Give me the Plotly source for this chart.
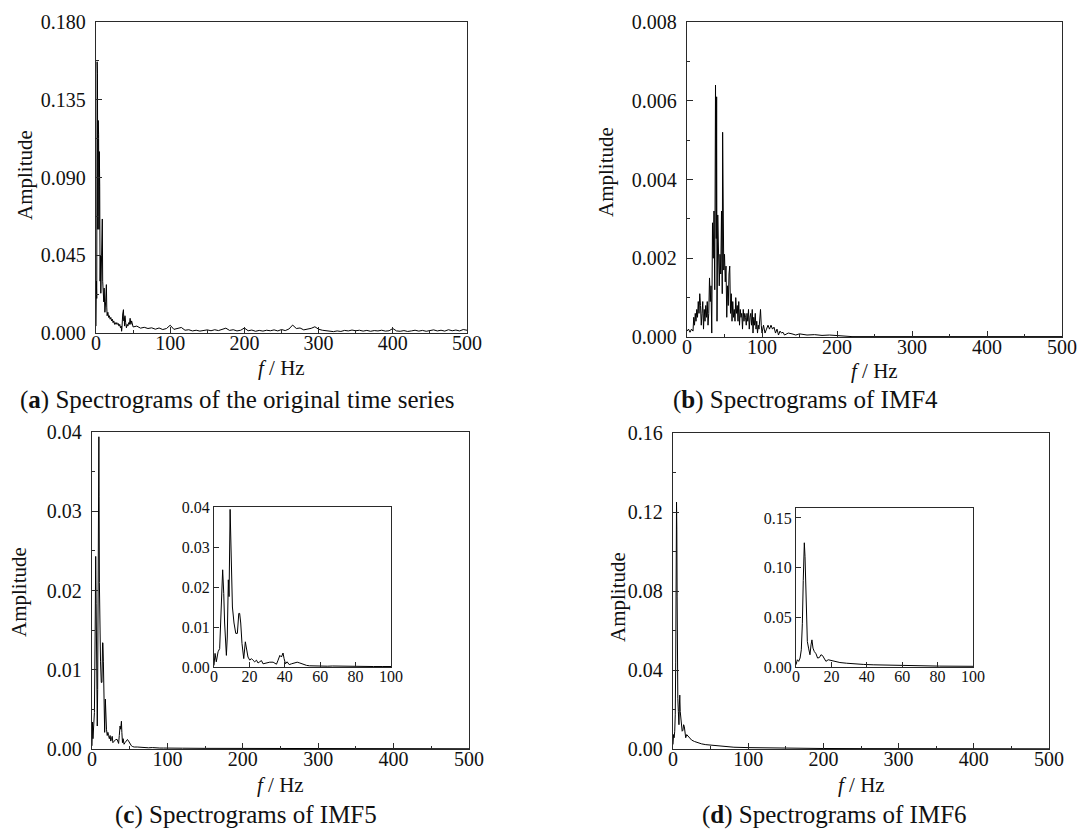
import plotly.graph_objects as go

# ---------------- data ----------------
# (a) original time series spectrum
freq_a_low = [0, 0.5, 1.0, 1.5, 2.0, 2.4, 3.0, 3.5, 4.0, 4.5, 5.0, 5.5, 6.0, 6.5, 7.0, 7.5,
              8.0, 8.5, 9.0, 9.5, 10, 10.5, 11, 11.5, 12, 13, 14, 14.5, 15, 16, 17, 18, 19,
              20, 21, 22, 23, 24, 25, 26, 27, 28, 29, 30, 31, 32, 33, 34, 34.5, 35, 36, 37,
              37.5, 38, 38.5, 39, 40, 41, 42, 43, 44, 45, 46, 47, 48, 49]
amp_a_low = [0.004, 0.030, 0.020, 0.157, 0.150, 0.060, 0.123, 0.115, 0.060, 0.105, 0.085, 0.030,
             0.045, 0.023, 0.035, 0.025, 0.050, 0.066, 0.030, 0.020, 0.027, 0.018, 0.026, 0.014,
             0.012, 0.018, 0.028, 0.015, 0.010, 0.012, 0.009, 0.010, 0.008, 0.009, 0.007, 0.008,
             0.006, 0.007, 0.005, 0.006, 0.005, 0.006, 0.005, 0.0055, 0.004, 0.005, 0.003, 0.004,
             0.001, 0.003, 0.011, 0.0135, 0.007, 0.009, 0.004, 0.010, 0.006, 0.003, 0.005, 0.004,
             0.006, 0.005, 0.0085, 0.005, 0.007, 0.004]
freq_a_tail = [50, 55, 60, 65, 70, 75, 80, 85, 90, 95, 100, 105, 110, 115, 120, 125, 130, 135,
               140, 145, 150, 155, 160, 165, 170, 175, 180, 185, 190, 195, 200, 205, 210, 215,
               220, 225, 230, 235, 240, 245, 250, 255, 260, 265, 270, 275, 280, 285, 290, 295,
               300, 305, 310, 315, 320, 325, 330, 335, 340, 345, 350, 355, 360, 365, 370, 375,
               380, 385, 390, 395, 400, 405, 410, 415, 420, 425, 430, 435, 440, 445, 450, 455,
               460, 465, 470, 475, 480, 485, 490, 495, 500]
amp_a_tail = [0.0035, 0.0040, 0.0028, 0.0033, 0.0026, 0.0030, 0.0022, 0.0029, 0.0020, 0.0026,
              0.0045, 0.0021, 0.0028, 0.0032, 0.0016, 0.0019, 0.0012, 0.0016, 0.0011, 0.0015,
              0.0018, 0.0013, 0.0019, 0.0014, 0.0022, 0.0028, 0.0015, 0.0019, 0.0012, 0.0016,
              0.0029, 0.0013, 0.0017, 0.0010, 0.0015, 0.0011, 0.0016, 0.0013, 0.0018, 0.0012,
              0.0020, 0.0014, 0.0023, 0.0046, 0.0026, 0.0029, 0.0018, 0.0021, 0.0027, 0.0036,
              0.0022, 0.0016, 0.0013, 0.0011, 0.0008, 0.0012, 0.0009, 0.0015, 0.0012, 0.0017,
              0.0013, 0.0016, 0.0011, 0.0015, 0.0010, 0.0014, 0.0012, 0.0016, 0.0011, 0.0013,
              0.0026, 0.0012, 0.0010, 0.0014, 0.0009, 0.0012, 0.0016, 0.0011, 0.0015, 0.0010,
              0.0014, 0.0018, 0.0012, 0.0016, 0.0011, 0.0019, 0.0013, 0.0017, 0.0012, 0.0020,
              0.0016]

# (b) IMF4 spectrum
freq_b = [0, 2, 4, 6, 8, 9, 10, 11, 12, 13, 14, 15, 16, 17, 18, 19, 20, 21, 22, 23, 24, 25, 26,
          27, 28, 29, 30, 31, 32, 33, 34, 35, 36, 37, 38, 39, 39.5, 40, 41, 42, 43, 44, 45, 46,
          47, 47.5, 48, 49, 50, 51, 52, 53, 54, 55, 56, 57, 58, 59, 60, 61, 62, 63, 64, 65, 66,
          67, 68, 69, 70, 71, 72, 73, 74, 75, 76, 77, 78, 79, 80, 81, 82, 83, 84, 85, 86, 87,
          88, 89, 90, 91, 92, 93, 94, 95, 96, 97, 98, 99, 100, 102, 104, 106, 108, 110, 112,
          114, 116, 118, 120, 122, 124, 126, 128, 130, 135, 140, 145, 150, 160, 170, 180, 190,
          200, 210, 220, 250, 300, 400, 500]
amp_b = [0.00015, 0.0002, 0.00012, 0.0002, 0.00015, 0.0005, 0.0003, 0.0006, 0.0004, 0.0007,
         0.0005, 0.0009, 0.0006, 0.0011, 0.0008, 0.0003, 0.0006, 0.0009, 0.0002, 0.0007, 0.0004,
         0.0008, 0.0005, 0.0009, 0.0003, 0.0006, 0.0015, 0.0009, 0.0013, 0.0001, 0.0029, 0.0020,
         0.0032, 0.0012, 0.0064, 0.0025, 0.0061, 0.0004, 0.0031, 0.0024, 0.0013, 0.0021, 0.0016,
         0.0032, 0.0011, 0.0052, 0.0037, 0.0017, 0.0021, 0.0014, 0.0018, 0.0005, 0.0013, 0.0008,
         0.0016, 0.0018, 0.0006, 0.0011, 0.0004, 0.0009, 0.0005, 0.0007, 0.0004, 0.0010, 0.0006,
         0.0008, 0.0004, 0.0009, 0.0003, 0.0007, 0.0005, 0.0006, 0.0002, 0.0007, 0.0004, 0.0006,
         0.0005, 0.0003, 0.0006, 0.0004, 0.0007, 0.0002, 0.0005, 0.0006, 0.0003, 0.0007, 0.0001,
         0.0005, 0.0003, 0.0006, 0.0002, 0.0004, 0.0001, 0.0003, 0.0002, 0.0005, 0.0007, 0.0003,
         0.0001, 0.0003, 0.0001, 0.0002, 0.0003, 0.0002, 0.0003, 0.0002, 0.00025, 0.0001, 0.0002,
         0.00005, 0.00015, 0.0001, 0.00012, 0.00005, 0.0001, 0.00008, 0.00005, 0.00008, 0.00005,
         0.00006, 0.00004, 0.00005, 0.00004, 0.00002, 0.00001, 0.00001, 0.00001, 0.00001, 0.00001]

# (c) IMF5 spectrum (main plot and 0-100 Hz inset share it)
freq_c = [0, 0.6, 1.3, 2.3, 3.2, 4.2, 4.9, 5.5, 6, 7, 7.5, 8.1, 8.5, 9.1, 9.4, 9.8, 10.4, 11.3,
          12.3, 13.2, 14, 14.5, 15.1, 15.8, 16.8, 17.7, 18.3, 19.2, 20.2, 21.1, 22, 23, 24,
          24.9, 25.8, 26.8, 27.7, 29.6, 31.5, 33.4, 35.3, 36.2, 37.2, 38.1, 39, 39.6, 40.4,
          41.3, 42.5, 43.8, 45.7, 47, 48.5, 50.4, 52.3, 54, 56, 60, 64, 67, 71, 75, 80, 85, 90,
          95, 100, 120, 150, 200, 250, 300, 350, 400, 450, 500]
amp_c = [0.0004, 0.0034, 0.0013, 0.0038, 0.0046, 0.0150, 0.0243, 0.0184, 0.0110, 0.0029, 0.0075,
         0.0218, 0.0176, 0.0394, 0.0319, 0.0210, 0.0150, 0.0110, 0.0084, 0.0084, 0.0134, 0.0134,
         0.0110, 0.0059, 0.0021, 0.0063, 0.0042, 0.0025, 0.0017, 0.0021, 0.0017, 0.0013, 0.0017,
         0.0010, 0.0013, 0.0016, 0.0008, 0.0010, 0.0012, 0.0012, 0.0007, 0.0017, 0.0029, 0.0025,
         0.0035, 0.0021, 0.0008, 0.0013, 0.0006, 0.0008, 0.0010, 0.0012, 0.0010, 0.0006, 0.0004,
         0.0003, 0.00025, 0.00025, 0.0002, 0.00025, 0.0002, 0.00015, 0.00018, 0.00012, 0.00012,
         0.00012, 0.0001, 0.0001, 0.00008, 0.00006, 0.00005, 0.00004, 0.00004, 0.00003, 0.00003,
         0.00003]

# (d) IMF6 spectrum (main plot and 0-100 Hz inset share it)
freq_d = [0, 0.75, 1.5, 2.3, 3, 3.6, 4.1, 4.7, 5.1, 5.5, 5.8, 6.4, 7.1, 7.9, 8.5, 9, 9.6, 10.3,
          11.3, 12.2, 13.2, 14.1, 15, 16, 16.9, 18.2, 19.5, 21, 23, 24.8, 28.6, 32.3, 38, 43.6,
          53, 62, 71, 81, 100, 125, 150, 175, 200, 250, 300, 350, 400, 450, 500]
amp_d = [0.0023, 0.0073, 0.0057, 0.0090, 0.0173, 0.0440, 0.0870, 0.1250, 0.1110, 0.0770, 0.0410,
         0.0257, 0.0190, 0.0123, 0.0223, 0.0273, 0.0190, 0.0157, 0.0133, 0.0090, 0.0095, 0.0123,
         0.0115, 0.0080, 0.0057, 0.0073, 0.0067, 0.0058, 0.0050, 0.0045, 0.0038, 0.0032, 0.0026,
         0.0022, 0.0018, 0.0014, 0.0012, 0.0009, 0.0007, 0.0005, 0.0004, 0.0003, 0.00025, 0.0002,
         0.00015, 0.00012, 0.0001, 0.0001, 0.0001]

captions = ["(<b>a</b>) Spectrograms of the original time series",
            "(<b>b</b>) Spectrograms of IMF4",
            "(<b>c</b>) Spectrograms of IMF5",
            "(<b>d</b>) Spectrograms of IMF6"]
x_title = "<i>f</i> / Hz"
y_title = "Amplitude"

# ---------------- layout helpers ----------------
W, H = 1084, 830
SERIF = "Liberation Serif, Times New Roman, serif"
FRAME = "#2a2a2a"


def xdom(x0, x1):
    return [x0 / W, x1 / W]


def ydom(y0, y1):  # pixel rows from top
    return [1 - y1 / H, 1 - y0 / H]


fig = go.Figure()

panels = [
    ("", freq_a_low + freq_a_tail, amp_a_low + amp_a_tail, [0, 500], [0, 0.18], 100, 0.045, ".3f", (96, 467, 22, 333), 20),
    ("2", freq_b, amp_b, [0, 500], [0, 0.008], 100, 0.002, ".3f", (687, 1062, 22, 337), 20),
    ("3", freq_c, amp_c, [0, 500], [0, 0.04], 100, 0.01, ".2f", (92, 469, 432, 749), 20),
    ("4", freq_d, amp_d, [0, 500], [0, 0.16], 100, 0.04, ".2f", (673, 1049, 433, 749), 20),
    ("5", freq_c, amp_c, [0, 100], [0, 0.04], 20, 0.01, ".2f", (214, 391, 507, 667), 16),
    ("6", freq_d, amp_d, [0, 100], [0, 0.16], 20, 0.05, ".2f", (796, 973, 508, 667), 16),
]

for i, (n, xs, ys, xr, yr, dx, dy, fmt, box, fs) in enumerate(panels):
    fig.add_trace(go.Scatter(x=xs, y=ys, mode="lines",
                             line=dict(color="black", width=1),
                             xaxis="x" + n, yaxis="y" + n, showlegend=False,
                             hoverinfo="skip"))
    x0, x1, y0, y1 = box
    inset = i >= 4
    common = dict(showline=True, mirror=True, linecolor=FRAME, linewidth=1.3,
                  ticks="inside", ticklen=6 if not inset else 5, tickwidth=1.2, tickcolor=FRAME,
                  showgrid=False, zeroline=False, automargin=False,
                  tickfont=dict(family=SERIF, size=fs, color="#111"))
    xa = dict(domain=xdom(x0, x1), range=xr, dtick=dx, tick0=0,
              anchor="y" + n, ticklabelstandoff=(-8 if not inset else -5), **common)
    ya = dict(domain=ydom(y0, y1), range=yr, dtick=dy, tick0=0, tickformat=fmt,
              anchor="x" + n, ticklabelstandoff=(5 if not inset else 0), **common)
    if not inset:
        xa["minor"] = dict(dtick=dx / 2, ticks="inside", ticklen=3, tickcolor=FRAME, tickwidth=1)
        ya["minor"] = dict(dtick=dy / 2, ticks="inside", ticklen=3, tickcolor=FRAME, tickwidth=1)
    fig.update_layout(**{"xaxis" + n: xa, "yaxis" + n: ya})

annotations = []
xt_pos = [(281, 368), (874, 371), (280, 785), (861, 785)]
yt_pos = [(25, 175), (606, 172), (19, 592), (618, 597)]
for (xp, yp) in xt_pos:
    annotations.append(dict(x=xp / W, y=1 - yp / H, xref="paper", yref="paper", text=x_title,
                            showarrow=False, xanchor="center", yanchor="middle",
                            font=dict(family=SERIF, size=21, color="#111")))
for (xp, yp) in yt_pos:
    annotations.append(dict(x=xp / W, y=1 - yp / H, xref="paper", yref="paper", text=y_title,
                            showarrow=False, xanchor="center", yanchor="middle", textangle=-90,
                            font=dict(family=SERIF, size=21, color="#111")))
cap_pos = [(237, 400), (805, 400), (246, 815), (835, 815)]
for cap, (xp, yp) in zip(captions, cap_pos):
    annotations.append(dict(x=xp / W, y=1 - yp / H, xref="paper", yref="paper", text=cap,
                            showarrow=False, xanchor="center", yanchor="middle",
                            font=dict(family=SERIF, size=25, color="#111")))

fig.update_layout(template="none", width=W, height=H, margin=dict(l=0, r=0, t=0, b=0, pad=0),
                  paper_bgcolor="white", plot_bgcolor="white",
                  annotations=annotations, showlegend=False)

fig.write_html("out.html")
